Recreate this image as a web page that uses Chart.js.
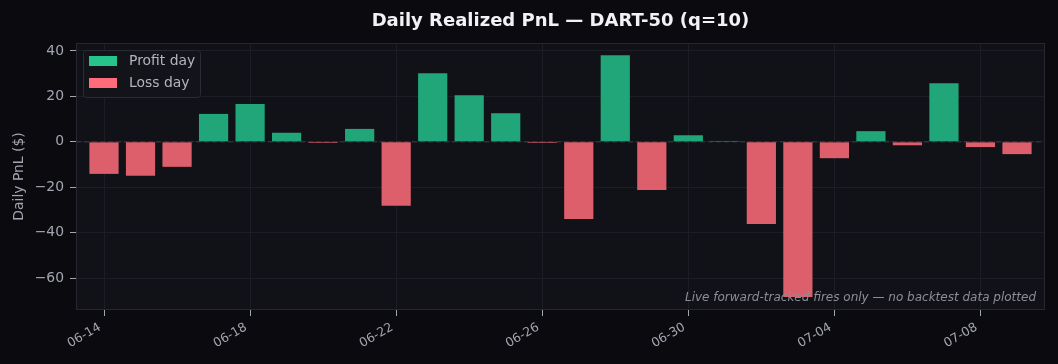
<!DOCTYPE html>
<html>
<head>
<meta charset="utf-8">
<script src="https://cdn.jsdelivr.net/npm/chart.js@4/dist/chart.umd.min.js"></script>
<style>
  html, body { margin: 0; padding: 0; background: #0b0b0f; }
  #wrap { width: 1058px; height: 364px; }
</style>
</head>
<body>
<div id="wrap"><canvas id="pnl-chart"></canvas></div>
<script>
// trading days (MM-DD) and realized PnL in $
const days = ['06-14', '06-15', '06-16', '06-17', '06-18', '06-19', '06-20', '06-21', '06-22', '06-23',
              '06-24', '06-25', '06-26', '06-27', '06-28', '06-29', '06-30', '07-01', '07-02', '07-03',
              '07-04', '07-05', '07-06', '07-07', '07-08', '07-09'];
const pnl = [-14.1, -14.9, -11.0, 12.3, 16.7, 4.0, -0.5, 5.7, -28.1, 30.2,
             20.5, 12.6, -0.5, -34.0, 38.1, -21.2, 2.9, 0.4, -36.2, -68.3,
             -7.2, 4.7, -1.5, 25.8, -2.3, -5.4];
const xTickLabels = ['06-14', '06-18', '06-22', '06-26', '06-30', '07-04', '07-08'];
const yTicks = [-60, -40, -20, 0, 20, 40];
const legendLabels = ['Profit day', 'Loss day'];

const GREEN = '#20a679';
const RED = '#dc5f6b';
const GREEN_KEY = '#26c48a';
const RED_KEY = '#ff6b78';
const TEXT = '#a3a6b0';
const GRID = '#1c1d25';

const plotDecor = {
    id: 'plotDecor',
    beforeDraw(chart) {
        const { ctx, chartArea: a } = chart;
        ctx.save();
        ctx.fillStyle = '#111217';
        ctx.fillRect(a.left, a.top, a.right - a.left, a.bottom - a.top);
        ctx.restore();
    },
    beforeDatasetsDraw(chart) {
        const { ctx, chartArea: a } = chart;
        const y0 = chart.scales.y.getPixelForValue(0);
        ctx.save();
        ctx.strokeStyle = '#2f303c';
        ctx.lineWidth = 1.5;
        ctx.setLineDash([5, 3]);
        ctx.beginPath();
        ctx.moveTo(a.left, y0);
        ctx.lineTo(a.right, y0);
        ctx.stroke();
        ctx.restore();
    },
    afterDatasetsDraw(chart) {
        const { ctx, chartArea: a } = chart;
        ctx.save();
        ctx.font = 'italic 12px "DejaVu Sans"';
        ctx.fillStyle = '#8b8e98';
        ctx.textAlign = 'right';
        ctx.textBaseline = 'alphabetic';
        ctx.fillText('Live forward-tracked fires only — no backtest data plotted', a.right - 9, a.bottom - 9);

        // frame
        ctx.strokeStyle = '#262731';
        ctx.lineWidth = 1;
        ctx.strokeRect(a.left + 0.5, a.top + 0.5, a.right - a.left - 1, a.bottom - a.top - 1);

        // legend box in upper left of the plot
        const bx = a.left + 7.5, by = a.top + 7.5;
        ctx.beginPath();
        ctx.roundRect(bx, by, 117, 47, 3);
        ctx.fillStyle = 'rgba(20, 21, 27, 0.92)';
        ctx.fill();
        ctx.strokeStyle = '#2a2b35';
        ctx.stroke();
        const keys = [GREEN_KEY, RED_KEY];
        ctx.font = '13.9px "DejaVu Sans"';
        ctx.textAlign = 'left';
        ctx.textBaseline = 'middle';
        legendLabels.forEach((label, i) => {
            const rowY = a.top + 13 + i * 22;
            ctx.fillStyle = keys[i];
            ctx.fillRect(a.left + 13, rowY, 28, 10);
            ctx.fillStyle = '#b2b5be';
            ctx.fillText(label, a.left + 53, rowY + 5.5);
        });
        ctx.restore();
    }
};

new Chart(document.getElementById('pnl-chart'), {
    type: 'bar',
    data: {
        datasets: [{
            data: pnl.map((v, i) => ({ x: i, y: v })),
            backgroundColor: pnl.map(v => v >= 0 ? GREEN : RED),
            barPercentage: 0.8,
            categoryPercentage: 1.0,
            borderWidth: 0
        }]
    },
    options: {
        responsive: true,
        maintainAspectRatio: false,
        animation: false,
        layout: { padding: { left: 0, right: 13, top: 0, bottom: 0 } },
        plugins: {
            legend: { display: false },
            tooltip: { enabled: false },
            title: {
                display: true,
                text: 'Daily Realized PnL — DART-50 (q=10)',
                color: '#f2f2f4',
                font: { family: 'DejaVu Sans', size: 18, weight: 'bold' },
                padding: { top: 10.5, bottom: 10.9 },
                fullSize: false
            }
        },
        scales: {
            x: {
                type: 'linear',
                offset: false,
                min: -0.767,
                max: 25.767,
                afterBuildTicks: axis => {
                    axis.ticks = xTickLabels.map(d => ({ value: days.indexOf(d) }));
                },
                afterFit: axis => { axis.height = 54; },
                ticks: {
                    autoSkip: false,
                    minRotation: 30,
                    maxRotation: 30,
                    padding: 4,
                    labelOffset: -4,
                    color: TEXT,
                    font: { family: 'DejaVu Sans', size: 12.5 },
                    callback: v => days[v]
                },
                grid: { offset: false, color: GRID, tickColor: TEXT, tickLength: 6 },
                border: { display: false }
            },
            y: {
                min: -74,
                max: 43.5,
                afterBuildTicks: axis => {
                    axis.ticks = yTicks.map(v => ({ value: v }));
                },
                afterFit: axis => { axis.width = 76; },
                title: {
                    display: true,
                    text: 'Daily PnL ($)',
                    color: TEXT,
                    font: { family: 'DejaVu Sans', size: 13.9 },
                    padding: { top: 11, bottom: 0 }
                },
                ticks: {
                    padding: 6,
                    color: TEXT,
                    font: { family: 'DejaVu Sans', size: 13.9 },
                    callback: v => v < 0 ? '\u2212' + Math.abs(v) : String(v)
                },
                grid: { color: GRID, tickColor: TEXT, tickLength: 6 },
                border: { display: false }
            }
        }
    },
    plugins: [plotDecor]
});
</script>
</body>
</html>
